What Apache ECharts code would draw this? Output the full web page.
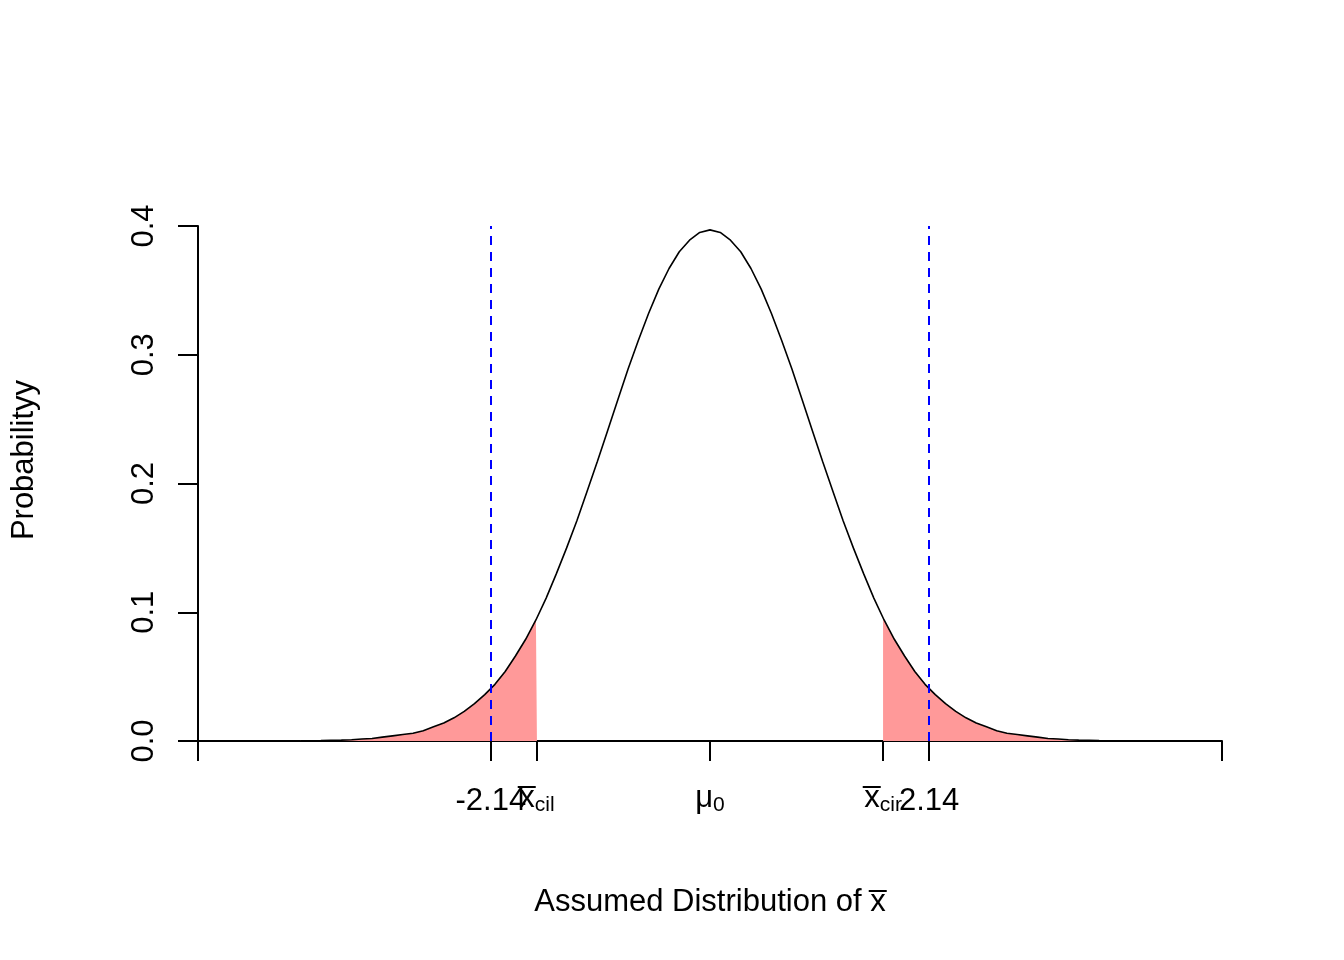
<!DOCTYPE html>
<html>
<head>
<meta charset="utf-8">
<script src="https://cdn.jsdelivr.net/npm/echarts@6/dist/echarts.min.js"></script>
<style>
html,body{margin:0;padding:0;background:#fff;}
#chart{width:1344px;height:960px;}
</style>
</head>
<body>
<div id="chart"></div>
<script>
// sample positions along x (assumed distribution, standardised units)
var xs = [-4.0,-3.9,-3.8,-3.7,-3.6,-3.5,-3.4,-3.3,-3.2,-3.1,-3.0,-2.9,-2.8,-2.7,-2.6,-2.5,-2.4,-2.3,-2.2,-2.1,
          -2.0,-1.9,-1.8,-1.7,-1.6,-1.5,-1.4,-1.3,-1.2,-1.1,-1.0,-0.9,-0.8,-0.7,-0.6,-0.5,-0.4,-0.3,-0.2,-0.1,
          0.0,0.1,0.2,0.3,0.4,0.5,0.6,0.7,0.8,0.9,1.0,1.1,1.2,1.3,1.4,1.5,1.6,1.7,1.8,1.9,
          2.0,2.1,2.2,2.3,2.4,2.5,2.6,2.7,2.8,2.9,3.0,3.1,3.2,3.3,3.4,3.5,3.6,3.7,3.8,3.9,4.0];
// density
var density = [0.0001,0.0002,0.0003,0.0005,0.0007,0.001,0.0015,0.002,0.003,0.004,0.005,0.006,0.008,0.011,0.014,0.018,0.023,0.029,0.036,0.044,
               0.054,0.066,0.079,0.094,0.111,0.130,0.150,0.171,0.194,0.217,0.241,0.265,0.289,0.311,0.332,0.351,0.367,0.380,0.389,0.395,
               0.397,0.395,0.389,0.380,0.367,0.351,0.332,0.311,0.289,0.265,0.241,0.217,0.194,0.171,0.150,0.130,0.111,0.094,0.079,0.066,
               0.054,0.044,0.036,0.029,0.023,0.018,0.014,0.011,0.008,0.006,0.005,0.004,0.003,0.002,0.0015,0.001,0.0007,0.0005,0.0003,0.0002,0.0001];
// rejection-region cut points and the curve height there
var xcil = -1.69, xcir = 1.69, cutDensity = 0.095;
// critical values (dashed lines)
var critLow = -2.14, critHigh = 2.14;
// x-axis tick positions / labels
var xTickValues = [-5, -2.14, -1.69, 0, 1.69, 2.14, 5];
var numLabelValues = [-2.14, 2.14];
var numLabelTexts = ['-2.14', '2.14'];
var symLabelValues = [-1.69, 0, 1.69];
var symLabelTexts = ['{m|x\u0305}{s|cil}', '{m|\u03bc}{s|0}', '{m|x\u0305}{s|cir}'];
var yTicks = [0, 0.1, 0.2, 0.3, 0.4];

var curve = xs.map(function (x, i) { return [x, density[i]]; });
var leftTail = curve.filter(function (p) { return p[0] < xcil; }).concat([[xcil, cutDensity]]);
var rightTail = [[xcir, cutDensity]].concat(curve.filter(function (p) { return p[0] > xcir; }));

var FONT = "'Liberation Sans', Arial, sans-serif";
var FS = 31;

function lookup(vals, texts) {
  return function (v) {
    for (var i = 0; i < vals.length; i++) {
      if (Math.abs(v - vals[i]) < 1e-6) return texts[i];
    }
    return '';
  };
}

var chart = echarts.init(document.getElementById('chart'), null, {renderer: 'canvas'});
chart.setOption({
  animation: false,
  backgroundColor: '#ffffff',
  grid: {left: 198, right: 122, top: 226, bottom: 219, containLabel: false},
  xAxis: [{
    type: 'value', min: -5, max: 5, position: 'bottom',
    name: 'Assumed Distribution of x\u0305',
    nameLocation: 'middle', nameGap: 146,
    nameTextStyle: {fontFamily: FONT, fontSize: FS, color: '#000'},
    axisLine: {show: true, onZero: false, lineStyle: {color: '#000', width: 2}},
    axisTick: {show: true, length: 20, lineStyle: {color: '#000', width: 2}, customValues: xTickValues},
    axisLabel: {
      show: true, margin: 45, customValues: numLabelValues, hideOverlap: false,
      fontFamily: FONT, fontSize: FS, color: '#000',
      formatter: lookup(numLabelValues, numLabelTexts)
    },
    splitLine: {show: false}
  }, {
    type: 'value', min: -5, max: 5, position: 'bottom', offset: 0,
    axisLine: {show: false, onZero: false},
    axisTick: {show: false},
    axisLabel: {
      show: true, margin: 40, customValues: symLabelValues, hideOverlap: false,
      formatter: lookup(symLabelValues, symLabelTexts),
      rich: {
        m: {fontFamily: FONT, fontSize: FS, color: '#000'},
        s: {fontFamily: FONT, fontSize: 21, color: '#000', padding: [14, 0, 0, 0]}
      }
    },
    splitLine: {show: false}
  }],
  yAxis: {
    type: 'value', min: 0, max: 0.4, interval: 0.1,
    axisLine: {show: true, onZero: false, lineStyle: {color: '#000', width: 2}},
    axisTick: {show: true, length: 20, lineStyle: {color: '#000', width: 2}},
    axisLabel: {
      show: true, rotate: 90, margin: 38,
      fontFamily: FONT, fontSize: FS, color: '#000',
      formatter: function (v) { return v.toFixed(1); }
    },
    splitLine: {show: false}
  },
  graphic: [{
    type: 'text', x: 24, y: 460, rotation: Math.PI / 2,
    style: {text: 'Probabilityy', fontFamily: FONT, fontSize: FS, fill: '#000',
            align: 'center', verticalAlign: 'middle'}
  }],
  series: [
    {
      type: 'line', data: leftTail, symbol: 'none', silent: true,
      lineStyle: {width: 0}, areaStyle: {color: '#ff9999', opacity: 1, origin: 0}, z: 1
    },
    {
      type: 'line', data: rightTail, symbol: 'none', silent: true,
      lineStyle: {width: 0}, areaStyle: {color: '#ff9999', opacity: 1, origin: 0}, z: 1
    },
    {
      type: 'line', data: curve, symbol: 'none', silent: true,
      lineStyle: {color: '#000', width: 1.6}, z: 3,
      markLine: {
        silent: true, symbol: 'none', label: {show: false},
        lineStyle: {color: '#0000ff', type: [9, 7], width: 2},
        data: [{xAxis: critLow}, {xAxis: critHigh}]
      }
    }
  ]
});
</script>
</body>
</html>
